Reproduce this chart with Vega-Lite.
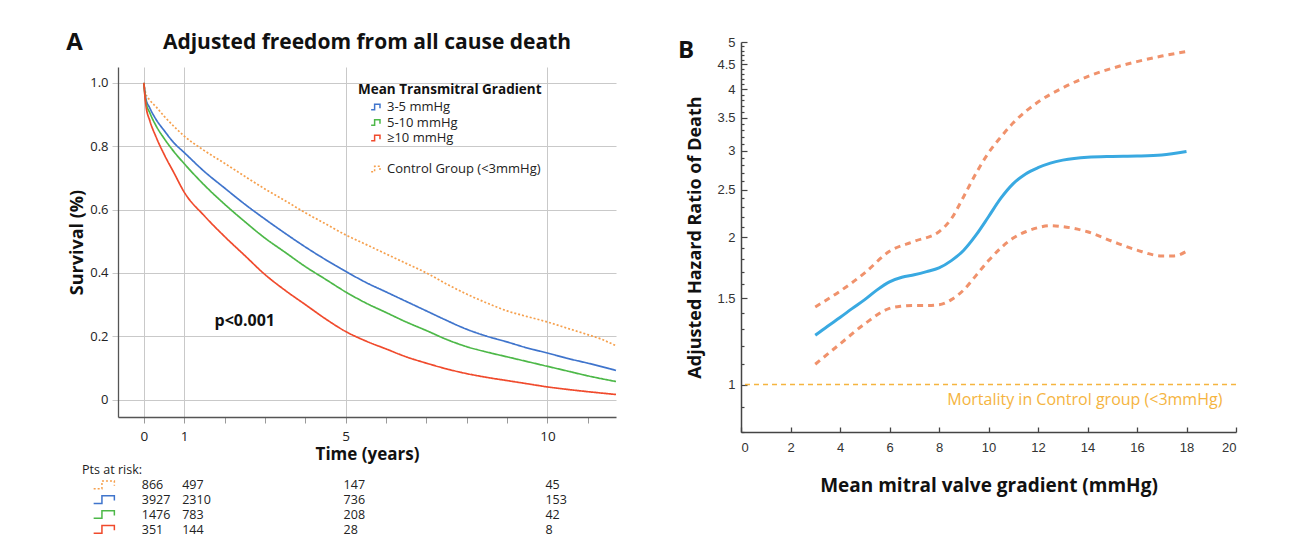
{
  "$schema": "https://vega.github.io/schema/vega-lite/v6.json",
  "background": "white",
  "padding": {"left": 66, "top": 30, "right": 5, "bottom": 2},
  "config": {"view": {"stroke": null}, "font": "Open Sans"},
  "datasets": {
    "km": [
      {"g": "Control Group (<3mmHg)", "t": 0, "s": 1},
      {"g": "Control Group (<3mmHg)", "t": 0.05, "s": 0.965},
      {"g": "Control Group (<3mmHg)", "t": 0.15, "s": 0.945},
      {"g": "Control Group (<3mmHg)", "t": 0.3, "s": 0.925},
      {"g": "Control Group (<3mmHg)", "t": 0.5, "s": 0.895},
      {"g": "Control Group (<3mmHg)", "t": 0.75, "s": 0.862},
      {"g": "Control Group (<3mmHg)", "t": 1, "s": 0.832},
      {"g": "Control Group (<3mmHg)", "t": 1.5, "s": 0.786},
      {"g": "Control Group (<3mmHg)", "t": 2, "s": 0.746},
      {"g": "Control Group (<3mmHg)", "t": 2.5, "s": 0.705},
      {"g": "Control Group (<3mmHg)", "t": 3, "s": 0.665},
      {"g": "Control Group (<3mmHg)", "t": 3.5, "s": 0.628},
      {"g": "Control Group (<3mmHg)", "t": 4, "s": 0.59},
      {"g": "Control Group (<3mmHg)", "t": 4.5, "s": 0.555},
      {"g": "Control Group (<3mmHg)", "t": 5, "s": 0.52},
      {"g": "Control Group (<3mmHg)", "t": 5.5, "s": 0.49},
      {"g": "Control Group (<3mmHg)", "t": 6, "s": 0.46},
      {"g": "Control Group (<3mmHg)", "t": 6.5, "s": 0.43},
      {"g": "Control Group (<3mmHg)", "t": 7, "s": 0.4},
      {"g": "Control Group (<3mmHg)", "t": 7.5, "s": 0.365},
      {"g": "Control Group (<3mmHg)", "t": 8, "s": 0.333},
      {"g": "Control Group (<3mmHg)", "t": 8.5, "s": 0.305},
      {"g": "Control Group (<3mmHg)", "t": 9, "s": 0.28},
      {"g": "Control Group (<3mmHg)", "t": 9.5, "s": 0.262},
      {"g": "Control Group (<3mmHg)", "t": 10, "s": 0.245},
      {"g": "Control Group (<3mmHg)", "t": 10.5, "s": 0.225},
      {"g": "Control Group (<3mmHg)", "t": 11, "s": 0.205},
      {"g": "Control Group (<3mmHg)", "t": 11.35, "s": 0.19},
      {"g": "Control Group (<3mmHg)", "t": 11.7, "s": 0.17},
      {"g": "3-5 mmHg", "t": 0, "s": 1},
      {"g": "3-5 mmHg", "t": 0.05, "s": 0.95},
      {"g": "3-5 mmHg", "t": 0.15, "s": 0.92},
      {"g": "3-5 mmHg", "t": 0.3, "s": 0.885},
      {"g": "3-5 mmHg", "t": 0.5, "s": 0.85},
      {"g": "3-5 mmHg", "t": 0.75, "s": 0.81},
      {"g": "3-5 mmHg", "t": 1, "s": 0.78},
      {"g": "3-5 mmHg", "t": 1.5, "s": 0.72},
      {"g": "3-5 mmHg", "t": 2, "s": 0.668},
      {"g": "3-5 mmHg", "t": 2.5, "s": 0.617},
      {"g": "3-5 mmHg", "t": 3, "s": 0.57},
      {"g": "3-5 mmHg", "t": 3.5, "s": 0.525},
      {"g": "3-5 mmHg", "t": 4, "s": 0.482},
      {"g": "3-5 mmHg", "t": 4.5, "s": 0.442},
      {"g": "3-5 mmHg", "t": 5, "s": 0.405},
      {"g": "3-5 mmHg", "t": 5.5, "s": 0.37},
      {"g": "3-5 mmHg", "t": 6, "s": 0.34},
      {"g": "3-5 mmHg", "t": 6.5, "s": 0.31},
      {"g": "3-5 mmHg", "t": 7, "s": 0.28},
      {"g": "3-5 mmHg", "t": 7.5, "s": 0.25},
      {"g": "3-5 mmHg", "t": 8, "s": 0.222},
      {"g": "3-5 mmHg", "t": 8.5, "s": 0.2},
      {"g": "3-5 mmHg", "t": 9, "s": 0.182},
      {"g": "3-5 mmHg", "t": 9.5, "s": 0.163},
      {"g": "3-5 mmHg", "t": 10, "s": 0.147},
      {"g": "3-5 mmHg", "t": 10.5, "s": 0.13},
      {"g": "3-5 mmHg", "t": 11, "s": 0.115},
      {"g": "3-5 mmHg", "t": 11.7, "s": 0.092},
      {"g": "5-10 mmHg", "t": 0, "s": 1},
      {"g": "5-10 mmHg", "t": 0.05, "s": 0.94},
      {"g": "5-10 mmHg", "t": 0.15, "s": 0.905},
      {"g": "5-10 mmHg", "t": 0.3, "s": 0.865},
      {"g": "5-10 mmHg", "t": 0.5, "s": 0.825},
      {"g": "5-10 mmHg", "t": 0.75, "s": 0.782},
      {"g": "5-10 mmHg", "t": 1, "s": 0.745},
      {"g": "5-10 mmHg", "t": 1.5, "s": 0.677},
      {"g": "5-10 mmHg", "t": 2, "s": 0.617},
      {"g": "5-10 mmHg", "t": 2.5, "s": 0.562},
      {"g": "5-10 mmHg", "t": 3, "s": 0.51},
      {"g": "5-10 mmHg", "t": 3.5, "s": 0.465},
      {"g": "5-10 mmHg", "t": 4, "s": 0.42},
      {"g": "5-10 mmHg", "t": 4.5, "s": 0.38},
      {"g": "5-10 mmHg", "t": 5, "s": 0.34},
      {"g": "5-10 mmHg", "t": 5.5, "s": 0.305},
      {"g": "5-10 mmHg", "t": 6, "s": 0.275},
      {"g": "5-10 mmHg", "t": 6.5, "s": 0.245},
      {"g": "5-10 mmHg", "t": 7, "s": 0.218},
      {"g": "5-10 mmHg", "t": 7.5, "s": 0.19},
      {"g": "5-10 mmHg", "t": 8, "s": 0.167},
      {"g": "5-10 mmHg", "t": 8.5, "s": 0.15},
      {"g": "5-10 mmHg", "t": 9, "s": 0.135},
      {"g": "5-10 mmHg", "t": 9.5, "s": 0.12},
      {"g": "5-10 mmHg", "t": 10, "s": 0.105},
      {"g": "5-10 mmHg", "t": 10.5, "s": 0.09},
      {"g": "5-10 mmHg", "t": 11, "s": 0.075},
      {"g": "5-10 mmHg", "t": 11.7, "s": 0.057},
      {"g": "≥10 mmHg", "t": 0, "s": 1},
      {"g": "≥10 mmHg", "t": 0.05, "s": 0.93},
      {"g": "≥10 mmHg", "t": 0.15, "s": 0.88},
      {"g": "≥10 mmHg", "t": 0.3, "s": 0.83},
      {"g": "≥10 mmHg", "t": 0.5, "s": 0.775},
      {"g": "≥10 mmHg", "t": 0.75, "s": 0.715},
      {"g": "≥10 mmHg", "t": 1, "s": 0.655},
      {"g": "≥10 mmHg", "t": 1.5, "s": 0.58},
      {"g": "≥10 mmHg", "t": 2, "s": 0.515},
      {"g": "≥10 mmHg", "t": 2.5, "s": 0.455},
      {"g": "≥10 mmHg", "t": 3, "s": 0.395},
      {"g": "≥10 mmHg", "t": 3.5, "s": 0.345},
      {"g": "≥10 mmHg", "t": 4, "s": 0.3},
      {"g": "≥10 mmHg", "t": 4.5, "s": 0.255},
      {"g": "≥10 mmHg", "t": 5, "s": 0.215},
      {"g": "≥10 mmHg", "t": 5.5, "s": 0.185},
      {"g": "≥10 mmHg", "t": 6, "s": 0.16},
      {"g": "≥10 mmHg", "t": 6.5, "s": 0.135},
      {"g": "≥10 mmHg", "t": 7, "s": 0.115},
      {"g": "≥10 mmHg", "t": 7.5, "s": 0.097},
      {"g": "≥10 mmHg", "t": 8, "s": 0.082},
      {"g": "≥10 mmHg", "t": 8.5, "s": 0.07},
      {"g": "≥10 mmHg", "t": 9, "s": 0.06},
      {"g": "≥10 mmHg", "t": 9.5, "s": 0.05},
      {"g": "≥10 mmHg", "t": 10, "s": 0.04},
      {"g": "≥10 mmHg", "t": 10.5, "s": 0.032},
      {"g": "≥10 mmHg", "t": 11, "s": 0.025},
      {"g": "≥10 mmHg", "t": 11.7, "s": 0.016}
    ],
    "risk": [
      {"row": "head", "g": "none", "t": -1.48, "label": "Pts at risk:"},
      {"row": "ctrl", "g": "Control Group (<3mmHg)", "t": 0, "label": "866"},
      {"row": "ctrl", "g": "Control Group (<3mmHg)", "t": 1, "label": "497"},
      {"row": "ctrl", "g": "Control Group (<3mmHg)", "t": 5, "label": "147"},
      {"row": "ctrl", "g": "Control Group (<3mmHg)", "t": 10, "label": "45"},
      {"row": "b", "g": "3-5 mmHg", "t": 0, "label": "3927"},
      {"row": "b", "g": "3-5 mmHg", "t": 1, "label": "2310"},
      {"row": "b", "g": "3-5 mmHg", "t": 5, "label": "736"},
      {"row": "b", "g": "3-5 mmHg", "t": 10, "label": "153"},
      {"row": "gr", "g": "5-10 mmHg", "t": 0, "label": "1476"},
      {"row": "gr", "g": "5-10 mmHg", "t": 1, "label": "783"},
      {"row": "gr", "g": "5-10 mmHg", "t": 5, "label": "208"},
      {"row": "gr", "g": "5-10 mmHg", "t": 10, "label": "42"},
      {"row": "r", "g": "≥10 mmHg", "t": 0, "label": "351"},
      {"row": "r", "g": "≥10 mmHg", "t": 1, "label": "144"},
      {"row": "r", "g": "≥10 mmHg", "t": 5, "label": "28"},
      {"row": "r", "g": "≥10 mmHg", "t": 10, "label": "8"}
    ],
    "icons": [
      {"row": "ctrl", "g": "Control Group (<3mmHg)", "t": -0.95},
      {"row": "b", "g": "3-5 mmHg", "t": -0.95},
      {"row": "gr", "g": "5-10 mmHg", "t": -0.95},
      {"row": "r", "g": "≥10 mmHg", "t": -0.95}
    ],
    "hr": [
      {"s": "HR", "x": 3, "v": 1.26}, {"s": "HR", "x": 3.5, "v": 1.315}, {"s": "HR", "x": 4, "v": 1.37},
      {"s": "HR", "x": 4.5, "v": 1.43}, {"s": "HR", "x": 5, "v": 1.49}, {"s": "HR", "x": 5.5, "v": 1.56},
      {"s": "HR", "x": 6, "v": 1.62}, {"s": "HR", "x": 6.5, "v": 1.655}, {"s": "HR", "x": 7, "v": 1.675},
      {"s": "HR", "x": 7.5, "v": 1.7}, {"s": "HR", "x": 8, "v": 1.73}, {"s": "HR", "x": 8.5, "v": 1.79},
      {"s": "HR", "x": 9, "v": 1.88}, {"s": "HR", "x": 9.5, "v": 2.02}, {"s": "HR", "x": 10, "v": 2.2},
      {"s": "HR", "x": 10.5, "v": 2.4}, {"s": "HR", "x": 11, "v": 2.57}, {"s": "HR", "x": 11.5, "v": 2.69},
      {"s": "HR", "x": 12, "v": 2.77}, {"s": "HR", "x": 12.5, "v": 2.83}, {"s": "HR", "x": 13, "v": 2.87},
      {"s": "HR", "x": 14, "v": 2.91}, {"s": "HR", "x": 15, "v": 2.92}, {"s": "HR", "x": 16, "v": 2.925},
      {"s": "HR", "x": 17, "v": 2.94}, {"s": "HR", "x": 18, "v": 2.99},
      {"s": "upper", "x": 3, "v": 1.44}, {"s": "upper", "x": 4, "v": 1.55}, {"s": "upper", "x": 5, "v": 1.69},
      {"s": "upper", "x": 6, "v": 1.87}, {"s": "upper", "x": 7, "v": 1.96}, {"s": "upper", "x": 8, "v": 2.05},
      {"s": "upper", "x": 8.5, "v": 2.18}, {"s": "upper", "x": 9, "v": 2.42}, {"s": "upper", "x": 9.5, "v": 2.7},
      {"s": "upper", "x": 10, "v": 2.97}, {"s": "upper", "x": 10.5, "v": 3.2}, {"s": "upper", "x": 11, "v": 3.42},
      {"s": "upper", "x": 12, "v": 3.77}, {"s": "upper", "x": 13, "v": 4.03}, {"s": "upper", "x": 14, "v": 4.25},
      {"s": "upper", "x": 15, "v": 4.42}, {"s": "upper", "x": 16, "v": 4.56}, {"s": "upper", "x": 17, "v": 4.68},
      {"s": "upper", "x": 18, "v": 4.78},
      {"s": "lower", "x": 3, "v": 1.1}, {"s": "lower", "x": 4, "v": 1.21}, {"s": "lower", "x": 5, "v": 1.33},
      {"s": "lower", "x": 6, "v": 1.43}, {"s": "lower", "x": 6.5, "v": 1.445}, {"s": "lower", "x": 7, "v": 1.45},
      {"s": "lower", "x": 7.5, "v": 1.45}, {"s": "lower", "x": 8, "v": 1.455}, {"s": "lower", "x": 8.5, "v": 1.49},
      {"s": "lower", "x": 9, "v": 1.56}, {"s": "lower", "x": 9.5, "v": 1.67}, {"s": "lower", "x": 10, "v": 1.79},
      {"s": "lower", "x": 10.5, "v": 1.9}, {"s": "lower", "x": 11, "v": 1.99}, {"s": "lower", "x": 11.5, "v": 2.05},
      {"s": "lower", "x": 12, "v": 2.09}, {"s": "lower", "x": 12.5, "v": 2.11}, {"s": "lower", "x": 13, "v": 2.1},
      {"s": "lower", "x": 14, "v": 2.05}, {"s": "lower", "x": 15, "v": 1.96}, {"s": "lower", "x": 16, "v": 1.88},
      {"s": "lower", "x": 17, "v": 1.83}, {"s": "lower", "x": 17.5, "v": 1.83}, {"s": "lower", "x": 18, "v": 1.87}
    ]
  },
  "resolve": {"scale": {"x": "independent", "y": "independent", "color": "independent", "strokeDash": "independent"}},
  "spacing": 57,
  "hconcat": [
    {
      "spacing": 12,
      "resolve": {"scale": {"x": "independent", "y": "independent", "color": "independent", "strokeDash": "independent"}},
      "vconcat": [
        {
          "width": 498,
          "height": 1,
          "data": {"values": [
            {"label": "A", "t": -1.92, "kind": "letter"},
            {"label": "Adjusted freedom from all cause death", "t": 5.53, "kind": "title"}
          ]},
          "layer": [
            {
              "transform": [{"filter": "datum.kind == 'letter'"}],
              "mark": {"type": "text", "fontSize": 24, "fontWeight": "bold", "color": "#111", "align": "left", "baseline": "middle"},
              "encoding": {"x": {"field": "t", "type": "quantitative", "scale": {"domain": [-0.64, 11.7], "nice": false, "zero": false}, "axis": null}, "text": {"field": "label"}}
            },
            {
              "transform": [{"filter": "datum.kind == 'title'"}],
              "mark": {"type": "text", "fontSize": 21, "fontWeight": "bold", "color": "#111", "align": "center", "baseline": "middle"},
              "encoding": {"x": {"field": "t", "type": "quantitative", "axis": null}, "text": {"field": "label"}}
            }
          ]
        },
        {
          "spacing": -5,
          "resolve": {"scale": {"x": "independent", "y": "independent", "color": "independent", "strokeDash": "independent"}},
          "vconcat": [
            {
              "width": 498,
              "height": 350,
              "layer": [
                {
                  "data": {"name": "km"},
                  "mark": {"type": "line", "strokeWidth": 1.7, "interpolate": "monotone"},
                  "encoding": {
                    "x": {"field": "t", "type": "quantitative", "scale": {"domain": [-0.64, 11.7], "nice": false, "zero": false},
                      "axis": {"title": "Time (years)", "titleFontSize": 17, "titleFontWeight": "bold", "titleColor": "#111", "titlePadding": 4,
                        "values": [0, 1, 2, 3, 4, 5, 6, 7, 8, 9, 10, 11],
                        "labelExpr": "indexof([0, 1, 5, 10], datum.value) >= 0 ? datum.label : ''",
                        "labelFontSize": 13.5, "labelColor": "#222", "labelPadding": 6, "tickSize": 6, "tickColor": "#9a9a9a",
                        "domainColor": "#555", "domainWidth": 1.3,
                        "grid": true, "gridColor": "#c9c9c9", "gridOpacity": {"condition": {"test": "indexof([0, 1, 5, 10], datum.value) >= 0", "value": 1}, "value": 0}}},
                    "y": {"field": "s", "type": "quantitative", "scale": {"domain": [-0.055, 1.05], "nice": false, "zero": false},
                      "axis": {"title": "Survival (%)", "titleFontSize": 18, "titleFontWeight": "bold", "titleColor": "#111", "titlePadding": 3,
                        "values": [0, 0.2, 0.4, 0.6, 0.8, 1.0],
                        "labelExpr": "datum.value == 0 ? '0' : format(datum.value, '.1f')",
                        "labelFontSize": 13, "labelColor": "#222", "labelPadding": 4, "tickSize": 6, "tickColor": "#c9c9c9",
                        "domainColor": "#555", "domainWidth": 1.3, "grid": true, "gridColor": "#c9c9c9"}},
                    "color": {"field": "g", "type": "nominal",
                      "scale": {"domain": ["3-5 mmHg", "5-10 mmHg", "≥10 mmHg", " ", "Control Group (<3mmHg)"], "range": ["#3f74cc", "#4db848", "#f04a2c", "rgba(0,0,0,0)", "#f6a04d"]},
                      "legend": {"title": "Mean Transmitral Gradient", "orient": "none", "legendX": 240, "legendY": 16,
                        "titleFontSize": 13.5, "titleFontWeight": "bold", "titleColor": "#111", "titlePadding": 4, "titleLimit": 400,
                        "labelFontSize": 13, "labelColor": "#222", "labelLimit": 400, "symbolType": "M-1,0.5H-0.35V-0.5H0.65V0.25", "symbolSize": 115,
                        "symbolStrokeWidth": 1.5, "symbolOffset": 12, "rowPadding": 1.5, "labelOffset": 4, "padding": 0}},
                    "strokeDash": {"field": "g", "type": "nominal",
                      "scale": {"domain": ["3-5 mmHg", "5-10 mmHg", "≥10 mmHg", " ", "Control Group (<3mmHg)"], "range": [[1, 0], [1, 0], [1, 0], [1, 0], [2, 2]]},
                      "legend": {"title": "Mean Transmitral Gradient", "orient": "none", "legendX": 240, "legendY": 16,
                        "titleFontSize": 13.5, "titleFontWeight": "bold", "titleColor": "#111", "titlePadding": 4, "titleLimit": 400,
                        "labelFontSize": 13, "labelColor": "#222", "labelLimit": 400, "symbolType": "M-1,0.5H-0.35V-0.5H0.65V0.25", "symbolSize": 115,
                        "symbolStrokeWidth": 1.5, "symbolOffset": 12, "rowPadding": 1.5, "labelOffset": 4, "padding": 0}},
                    "order": {"field": "t"}
                  }
                },
                {
                  "data": {"values": [{"label": "p<0.001", "t": 2.5, "s": 0.247}]},
                  "mark": {"type": "text", "fontSize": 16, "fontWeight": "bold", "color": "#111"},
                  "encoding": {"x": {"field": "t", "type": "quantitative"}, "y": {"field": "s", "type": "quantitative"}, "text": {"field": "label"}}
                }
              ]
            },
            {
              "width": 498,
              "height": 74,
              "layer": [
                {
                  "data": {"name": "risk"},
                  "mark": {"type": "text", "align": "left", "baseline": "middle", "fontSize": 12.5, "color": "#222", "dx": -2},
                  "encoding": {
                    "x": {"field": "t", "type": "quantitative", "scale": {"domain": [-0.64, 11.7], "nice": false, "zero": false}, "axis": null},
                    "y": {"field": "row", "type": "ordinal", "sort": ["head", "ctrl", "b", "gr", "r"], "axis": null, "scale": {"paddingInner": 0, "paddingOuter": 0}},
                    "text": {"field": "label"}
                  }
                },
                {
                  "data": {"name": "icons"},
                  "mark": {"type": "point", "shape": "M-1,0.3H-0.3V-0.35H0.75V0.05", "filled": false, "size": 560, "strokeWidth": 1.5, "opacity": 1},
                  "encoding": {
                    "x": {"field": "t", "type": "quantitative"},
                    "y": {"field": "row", "type": "ordinal", "sort": ["head", "ctrl", "b", "gr", "r"]},
                    "color": {"field": "g", "type": "nominal", "legend": null,
                      "scale": {"domain": ["3-5 mmHg", "5-10 mmHg", "≥10 mmHg", "Control Group (<3mmHg)"], "range": ["#3f74cc", "#4db848", "#f04a2c", "#f6a04d"]}},
                    "strokeDash": {"field": "g", "type": "nominal", "legend": null,
                      "scale": {"domain": ["3-5 mmHg", "5-10 mmHg", "≥10 mmHg", "Control Group (<3mmHg)"], "range": [[1, 0], [1, 0], [1, 0], [2, 2]]}}
                  }
                }
              ]
            }
          ]
        }
      ]
    },
    {
      "width": 495,
      "height": 390,
      "layer": [
        {
          "data": {"values": [{"ref": 1}]},
          "mark": {"type": "rule", "color": "#f5b53f", "strokeDash": [5, 4], "strokeWidth": 1.5},
          "encoding": {"y": {"field": "ref", "type": "quantitative", "scale": {"type": "log", "domain": [0.8, 5], "nice": false}}}
        },
        {
          "data": {"name": "hr"},
          "transform": [{"filter": "datum.s != 'HR'"}],
          "mark": {"type": "line", "color": "#f0926c", "strokeWidth": 3, "strokeDash": [6, 5], "interpolate": "monotone"},
          "encoding": {
            "x": {"field": "x", "type": "quantitative", "scale": {"domain": [0, 20], "nice": false},
              "axis": {"title": "Mean mitral valve gradient (mmHg)", "titleFontSize": 19, "titleFontWeight": "bold", "titleColor": "#111", "titlePadding": 22,
                "values": [0, 2, 4, 6, 8, 10, 12, 14, 16, 18, 20], "labelFont": "Liberation Sans", "labelFontSize": 13, "labelColor": "#333",
                "tickSize": -5, "labelPadding": 14, "tickColor": "#444", "domainColor": "#444", "domainWidth": 1.5, "tickWidth": 1.3, "grid": false}},
            "y": {"field": "v", "type": "quantitative", "scale": {"type": "log", "domain": [0.8, 5], "nice": false},
              "axis": {"title": "Adjusted Hazard Ratio of Death", "titleFontSize": 18, "titleFontWeight": "bold", "titleColor": "#111", "titlePadding": 12,
                "values": [0.8, 0.9, 1, 1.1, 1.2, 1.3, 1.4, 1.5, 1.6, 1.7, 1.8, 1.9, 2, 2.1, 2.2, 2.3, 2.4, 2.5, 2.6, 2.7, 2.8, 2.9, 3, 3.1, 3.2, 3.3, 3.4, 3.5, 3.6, 3.7, 3.8, 3.9, 4, 4.1, 4.2, 4.3, 4.4, 4.5, 4.6, 4.7, 4.8, 4.9, 5],
                "labelExpr": "indexof([1, 1.5, 2, 2.5, 3, 3.5, 4, 4.5, 5], datum.value) >= 0 ? '' + datum.value : ''",
                "labelFont": "Liberation Sans", "labelFontSize": 13, "labelColor": "#333",
                "tickSize": {"condition": {"test": "indexof([1, 1.5, 2, 2.5, 3, 3.5, 4, 4.5, 5], datum.value) >= 0", "value": -6}, "value": -3},
                "labelPadding": 12, "tickColor": "#444", "tickWidth": 1.2, "domainColor": "#444", "domainWidth": 1.5, "grid": false}},
            "detail": {"field": "s"}
          }
        },
        {
          "data": {"name": "hr"},
          "transform": [{"filter": "datum.s == 'HR'"}],
          "mark": {"type": "line", "color": "#39a9e1", "strokeWidth": 3, "interpolate": "monotone"},
          "encoding": {
            "x": {"field": "x", "type": "quantitative"},
            "y": {"field": "v", "type": "quantitative"}
          }
        },
        {
          "data": {"values": [{"label": "Mortality in Control group (<3mmHg)", "x": 19.45, "v": 0.93}]},
          "mark": {"type": "text", "align": "right", "baseline": "middle", "fontSize": 16, "color": "#f5b440"},
          "encoding": {"x": {"field": "x", "type": "quantitative"}, "y": {"field": "v", "type": "quantitative"}, "text": {"field": "label"}}
        },
        {
          "data": {"values": [{"label": "B", "x": -2.55, "v": 4.8}]},
          "mark": {"type": "text", "align": "left", "baseline": "middle", "fontSize": 24, "fontWeight": "bold", "color": "#111"},
          "encoding": {"x": {"field": "x", "type": "quantitative"}, "y": {"field": "v", "type": "quantitative"}, "text": {"field": "label"}}
        }
      ]
    }
  ]
}
